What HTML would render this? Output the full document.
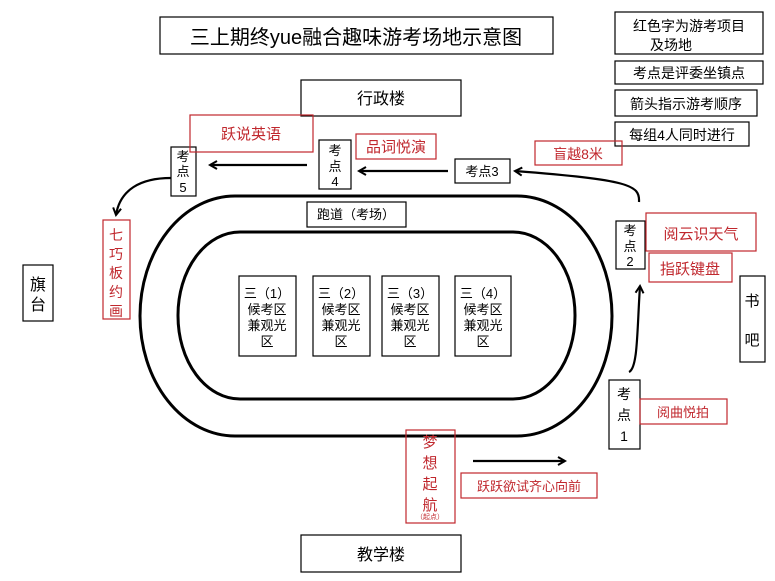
<!DOCTYPE html>
<html><head><meta charset="utf-8"><style>
html,body{margin:0;padding:0;background:#fff;}
svg{display:block;}
text{font-family:"Liberation Sans","Noto Sans CJK SC",sans-serif;}
</style></head><body>
<svg width="775" height="581" viewBox="0 0 775 581" xmlns="http://www.w3.org/2000/svg">
<defs>
<marker id="ah" markerWidth="10" markerHeight="10" refX="8" refY="5" orient="auto" markerUnits="userSpaceOnUse">
<path d="M1,1 L8,5 L1,9" fill="none" stroke="#000" stroke-width="2"/>
</marker>
</defs>
<g fill="none" stroke="#000" stroke-width="3">
<rect x="140" y="196" width="472" height="240" rx="95" ry="120"/>
<rect x="178" y="232" width="397" height="167" rx="62" ry="83"/>
</g>
<g fill="#fff" stroke="#000" stroke-width="1.2">
<rect x="160" y="17" width="393" height="37"/>
<rect x="615" y="12" width="148" height="42"/>
<rect x="615" y="61" width="148" height="23"/>
<rect x="615" y="90" width="142" height="26"/>
<rect x="615" y="122" width="134" height="24"/>
<rect x="301" y="80" width="160" height="36"/>
<rect x="301" y="535" width="160" height="37"/>
<rect x="23" y="265" width="30" height="56"/>
<rect x="740" y="276" width="25" height="86"/>
<rect x="171" y="147" width="25" height="49"/>
<rect x="319" y="140" width="32" height="49"/>
<rect x="455" y="159" width="55" height="24"/>
<rect x="307" y="202" width="99" height="25"/>
<rect x="616" y="221" width="29" height="48"/>
<rect x="609" y="380" width="31" height="69"/>
<rect x="239" y="276" width="57" height="80"/>
<rect x="313" y="276" width="57" height="80"/>
<rect x="382" y="276" width="57" height="80"/>
<rect x="455" y="276" width="56" height="80"/>
</g>
<g fill="none" stroke="#c0272d" stroke-width="1.2">
<rect x="190" y="115" width="123" height="37"/>
<rect x="356" y="134" width="80" height="25"/>
<rect x="535" y="141" width="87" height="24"/>
<rect x="646" y="213" width="110" height="38"/>
<rect x="649" y="253" width="83" height="29"/>
<rect x="103" y="220" width="27" height="99"/>
<rect x="640" y="399" width="87" height="25"/>
<rect x="406" y="430" width="49" height="93"/>
<rect x="461" y="473" width="136" height="25"/>
</g>
<g fill="none" stroke="#000" stroke-width="2.2">
<path d="M307,165 L210,165" marker-end="url(#ah)"/>
<path d="M448,171 L359,171" marker-end="url(#ah)"/>
<path d="M639,202 C640,185 630,180 515,171" marker-end="url(#ah)"/>
<path d="M171,178 C140,178 120,190 116,215" marker-end="url(#ah)"/>
<path d="M629,372 C638,368 637,330 640,286" marker-end="url(#ah)"/>
<path d="M473,461 L565,461" marker-end="url(#ah)"/>
</g>
<g fill="#000" font-size="13">
<text x="356" y="44" font-size="20" text-anchor="middle">三上期终yue融合趣味游考场地示意图</text>
<text x="689" y="31" font-size="14" text-anchor="middle">红色字为游考项目</text>
<text x="650" y="50" font-size="14">及场地</text>
<text x="689" y="78" font-size="14" text-anchor="middle">考点是评委坐镇点</text>
<text x="686" y="109" font-size="14" text-anchor="middle">箭头指示游考顺序</text>
<text x="682" y="140" font-size="14" text-anchor="middle">每组4人同时进行</text>
<text x="381" y="104" font-size="16" text-anchor="middle">行政楼</text>
<text x="381" y="560" font-size="16" text-anchor="middle">教学楼</text>
<text x="38" y="290" font-size="16" text-anchor="middle">旗</text>
<text x="38" y="310" font-size="16" text-anchor="middle">台</text>
<text x="752" y="306" font-size="15" text-anchor="middle">书</text>
<text x="752" y="345" font-size="15" text-anchor="middle">吧</text>
<text x="183" y="161" text-anchor="middle">考</text>
<text x="183" y="176" text-anchor="middle">点</text>
<text x="183" y="192" text-anchor="middle">5</text>
<text x="335" y="155" text-anchor="middle">考</text>
<text x="335" y="171" text-anchor="middle">点</text>
<text x="335" y="186" text-anchor="middle">4</text>
<text x="482" y="176" text-anchor="middle">考点3</text>
<text x="356" y="219" text-anchor="middle">跑道（考场）</text>
<text x="630" y="235" text-anchor="middle">考</text>
<text x="630" y="251" text-anchor="middle">点</text>
<text x="630" y="266" text-anchor="middle">2</text>
<text x="624" y="399" font-size="14" text-anchor="middle">考</text>
<text x="624" y="420" font-size="14" text-anchor="middle">点</text>
<text x="624" y="441" font-size="14" text-anchor="middle">1</text>
<g text-anchor="middle">
<text x="267" y="298">三（1）</text><text x="267" y="314">候考区</text><text x="267" y="330">兼观光</text><text x="267" y="346">区</text>
<text x="341" y="298">三（2）</text><text x="341" y="314">候考区</text><text x="341" y="330">兼观光</text><text x="341" y="346">区</text>
<text x="410" y="298">三（3）</text><text x="410" y="314">候考区</text><text x="410" y="330">兼观光</text><text x="410" y="346">区</text>
<text x="483" y="298">三（4）</text><text x="483" y="314">候考区</text><text x="483" y="330">兼观光</text><text x="483" y="346">区</text>
</g>
</g>
<g fill="#c0272d" text-anchor="middle">
<text x="251" y="139" font-size="15">跃说英语</text>
<text x="396" y="152" font-size="15">品词悦演</text>
<text x="578" y="159" font-size="14">盲越8米</text>
<text x="701" y="239" font-size="15">阅云识天气</text>
<text x="690" y="274" font-size="15">指跃键盘</text>
<text x="116" y="240" font-size="14">七</text>
<text x="116" y="259" font-size="14">巧</text>
<text x="116" y="278" font-size="14">板</text>
<text x="116" y="297" font-size="14">约</text>
<text x="116" y="316" font-size="14">画</text>
<text x="683" y="417" font-size="13">阅曲悦拍</text>
<text x="430" y="447" font-size="15">梦</text>
<text x="430" y="468" font-size="15">想</text>
<text x="430" y="489" font-size="15">起</text>
<text x="430" y="510" font-size="15">航</text>
<text x="430" y="519" font-size="7">（起点）</text>
<text x="529" y="491" font-size="13">跃跃欲试齐心向前</text>
</g>
</svg>
</body></html>
